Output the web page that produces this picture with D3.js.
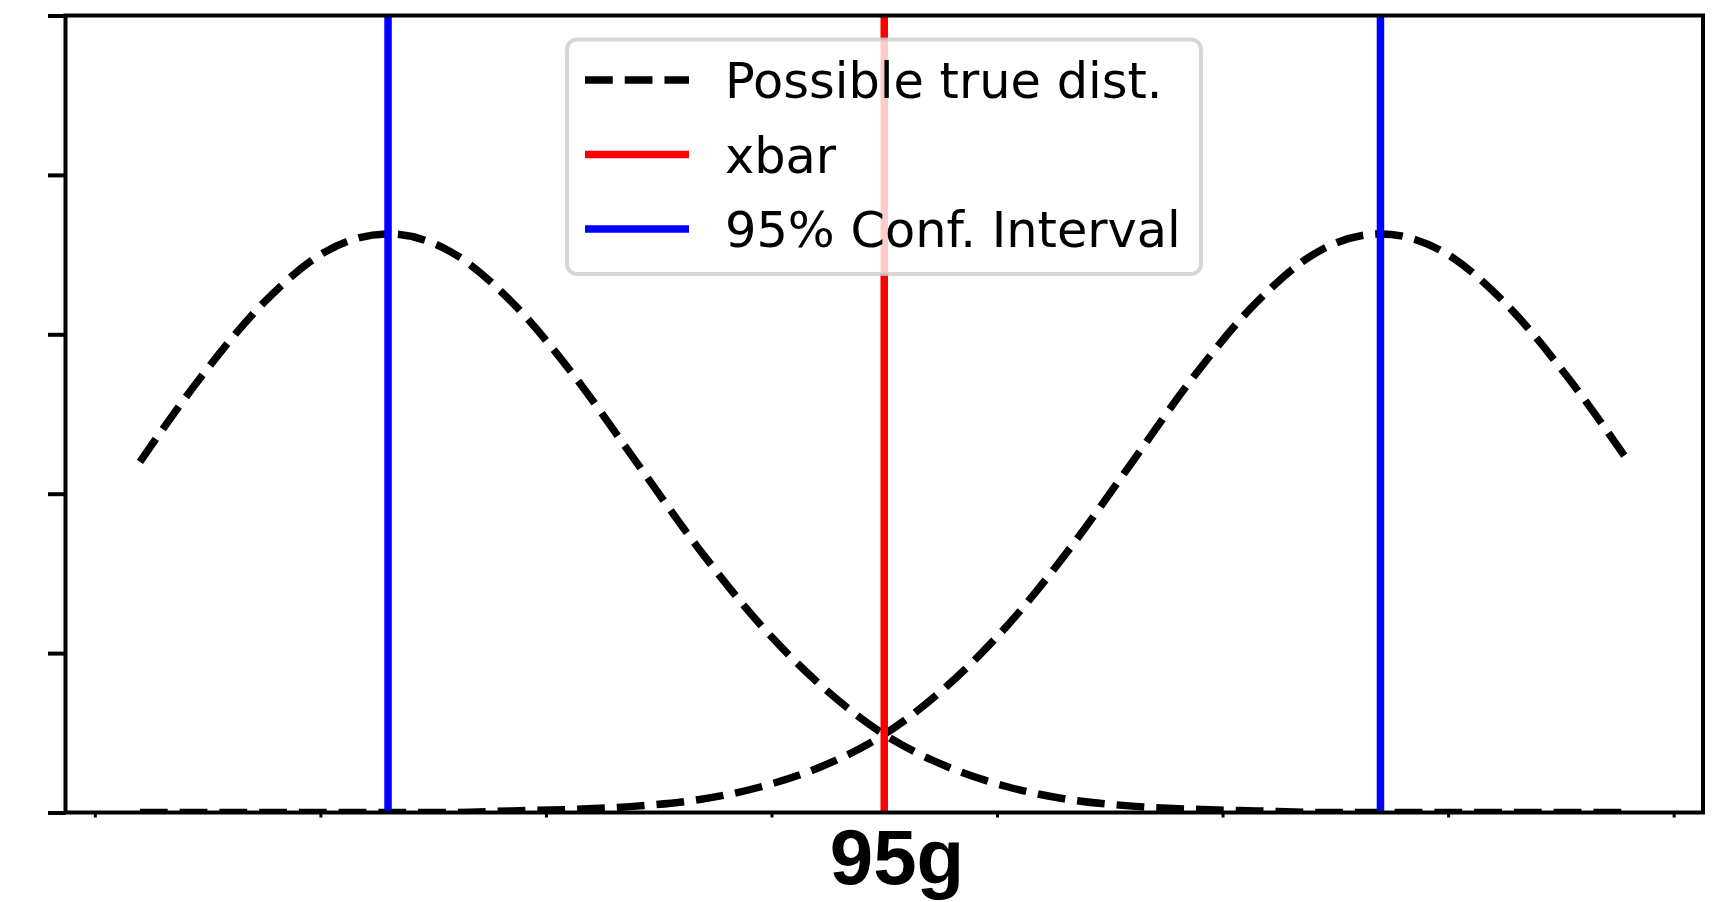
<!DOCTYPE html>
<html>
<head>
<meta charset="utf-8">
<script src="https://cdn.jsdelivr.net/npm/d3@7"></script>
<style>
    body { margin: 0; background: #ffffff; }
    svg { display: block; }
</style>
</head>
<body>
<svg id="chart" width="1720" height="902"></svg>
<script>
// Donnees
const xTicks = [91.5, 92.5, 93.5, 94.5, 95.5, 96.5, 97.5, 98.5];
const yTicks = [0, 0.1, 0.2, 0.3, 0.4, 0.5];

const xbar = 95;
const confInterval = [92.8, 97.2];

const curveX = [
    91.700, 91.975, 92.250, 92.525, 92.800, 93.075, 93.350, 93.625, 93.900,
    94.175, 94.450, 94.725, 95.000, 95.275, 95.550, 95.825, 96.100, 96.375,
    96.650, 96.925, 97.200, 97.475, 97.750, 98.025, 98.300
];
const lowerDist = [
    0.220, 0.274, 0.320, 0.352, 0.363, 0.352, 0.320, 0.274, 0.220,
    0.166, 0.118, 0.079, 0.049, 0.029, 0.016, 0.008, 0.004, 0.002,
    0.001, 0.000, 0.000, 0.000, 0.000, 0.000, 0.000
];
const upperDist = [
    0.000, 0.000, 0.000, 0.000, 0.000, 0.000, 0.001, 0.002, 0.004,
    0.008, 0.016, 0.029, 0.049, 0.079, 0.118, 0.166, 0.220, 0.274,
    0.320, 0.352, 0.363, 0.352, 0.320, 0.274, 0.220
];

const legendLabels = ["Possible true dist.", "xbar", "95% Conf. Interval"];
const axisLabel = "95g";

// Mise en page
const chartConfig = {
    left: 65.5,
    right: 1703,
    top: 15.5,
    bottom: 812.5,
    lineWidth: 7.5,
    spineWidth: 4,
    dash: "27.75,12"
};

const svg = d3.select("#chart");

const xScale = d3.scaleLinear()
    .domain([91.37, 98.63])
    .range([chartConfig.left, chartConfig.right]);

const yScale = d3.scaleLinear()
    .domain([0, 0.5])
    .range([chartConfig.bottom, chartConfig.top]);

svg.append("defs")
    .append("clipPath")
    .attr("id", "plot-clip")
    .append("rect")
    .attr("x", chartConfig.left)
    .attr("y", chartConfig.top)
    .attr("width", chartConfig.right - chartConfig.left)
    .attr("height", chartConfig.bottom - chartConfig.top);

const plot = svg.append("g").attr("clip-path", "url(#plot-clip)");

// Courbes en pointilles
const line = d3.line()
    .x(function(d) { return xScale(d[0]); })
    .y(function(d) { return yScale(d[1]); })
    .curve(d3.curveMonotoneX);

[lowerDist, upperDist].forEach(function(series) {
    plot.append("path")
        .datum(curveX.map(function(x, i) { return [x, series[i]]; }))
        .attr("d", line)
        .attr("fill", "none")
        .attr("stroke", "#000000")
        .attr("stroke-width", chartConfig.lineWidth)
        .attr("stroke-dasharray", chartConfig.dash);
});

// Lignes verticales
plot.append("line")
    .attr("x1", xScale(xbar))
    .attr("x2", xScale(xbar))
    .attr("y1", yScale(0))
    .attr("y2", yScale(0.5))
    .attr("stroke", "#ff0000")
    .attr("stroke-width", chartConfig.lineWidth);

confInterval.forEach(function(value) {
    plot.append("line")
        .attr("x1", xScale(value))
        .attr("x2", xScale(value))
        .attr("y1", yScale(0))
        .attr("y2", yScale(0.5))
        .attr("stroke", "#0000ff")
        .attr("stroke-width", chartConfig.lineWidth);
});

// Axes
const xAxis = svg.append("g")
    .attr("transform", "translate(0," + chartConfig.bottom + ")")
    .call(d3.axisBottom(xScale).tickValues(xTicks).tickSize(5).tickSizeOuter(0).tickFormat(""));
xAxis.select(".domain").remove();
xAxis.selectAll(".tick line").attr("stroke-width", 3);

const yAxis = svg.append("g")
    .attr("transform", "translate(" + chartConfig.left + ",0)")
    .call(d3.axisLeft(yScale).tickValues(yTicks).tickSize(17.5).tickSizeOuter(0).tickFormat(""));
yAxis.select(".domain").remove();
yAxis.selectAll(".tick line").attr("stroke-width", chartConfig.spineWidth);

svg.append("rect")
    .attr("x", chartConfig.left)
    .attr("y", chartConfig.top)
    .attr("width", chartConfig.right - chartConfig.left)
    .attr("height", chartConfig.bottom - chartConfig.top)
    .attr("fill", "none")
    .attr("stroke", "#000000")
    .attr("stroke-width", chartConfig.spineWidth);

// Legende
function drawLegend() {
    const legend = svg.append("g").attr("class", "legend");
    const colors = ["#000000", "#ff0000", "#0000ff"];
    const rowY = [80, 154.5, 229];

    legend.append("rect")
        .attr("x", 567)
        .attr("y", 39.5)
        .attr("width", 634)
        .attr("height", 234.5)
        .attr("rx", 10)
        .attr("fill", "#ffffff")
        .attr("fill-opacity", 0.8)
        .attr("stroke", "#cccccc")
        .attr("stroke-opacity", 0.8)
        .attr("stroke-width", 4);

    legendLabels.forEach(function(label, index) {
        legend.append("line")
            .attr("x1", 585)
            .attr("x2", 689)
            .attr("y1", rowY[index])
            .attr("y2", rowY[index])
            .attr("stroke", colors[index])
            .attr("stroke-width", chartConfig.lineWidth)
            .attr("stroke-dasharray", index === 0 ? chartConfig.dash : null);

        legend.append("text")
            .attr("x", 725)
            .attr("y", rowY[index] + 18)
            .attr("font-family", "DejaVu Sans")
            .attr("font-size", 49.4)
            .attr("fill", "#000000")
            .text(label);
    });
}

drawLegend();

svg.append("text")
    .attr("x", 897)
    .attr("y", 884)
    .attr("text-anchor", "middle")
    .attr("font-family", "Liberation Sans, Arial, sans-serif")
    .attr("font-weight", "bold")
    .attr("font-size", 78)
    .attr("fill", "#000000")
    .text(axisLabel);
</script>
</body>
</html>
